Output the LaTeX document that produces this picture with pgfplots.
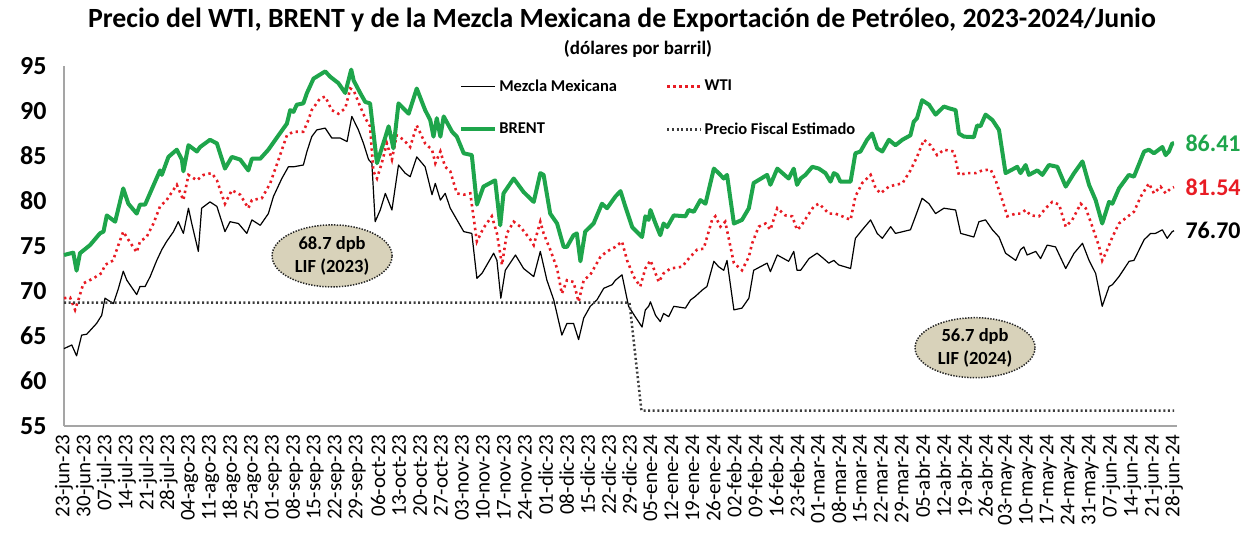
\documentclass[border=0pt]{standalone}
\usepackage{pgfplots}
\pgfplotsset{compat=1.18}
\usepackage{fontspec}
\setmainfont{Carlito}
\usetikzlibrary{shapes.geometric}
\definecolor{brentgreen}{RGB}{30,165,75}
\definecolor{wtired}{RGB}{232,28,36}
\definecolor{ellfill}{RGB}{216,210,186}
\definecolor{axgray}{RGB}{165,165,165}
\definecolor{fiscalgray}{RGB}{60,60,60}
\begin{document}
\begin{tikzpicture}
\useasboundingbox (0,0) rectangle (1244pt,542pt);
\node[font=\fontsize{27.8}{30}\selectfont\bfseries] at (622pt,522pt) {Precio del WTI, BRENT y de la Mezcla Mexicana de Exportación de Petróleo, 2023-2024/Junio};
\node[font=\fontsize{19}{21}\selectfont\bfseries] at (638pt,493pt) {(dólares por barril)};
\begin{axis}[
 at={(64pt,116pt)}, anchor=south west,
 scale only axis, width=1113pt, height=360pt,
 xmin=0, xmax=372, ymin=55, ymax=95,
 axis x line*=bottom, axis y line*=left,
 axis line style={axgray, line width=1.2pt, -},
 major tick length=0pt,
 ytick={55,60,...,95},
 xtick={0,7,...,371},
 xticklabels={23-jun-23,30-jun-23,07-jul-23,14-jul-23,21-jul-23,28-jul-23,04-ago-23,11-ago-23,18-ago-23,25-ago-23,01-sep-23,08-sep-23,15-sep-23,22-sep-23,29-sep-23,06-oct-23,13-oct-23,20-oct-23,27-oct-23,03-nov-23,10-nov-23,17-nov-23,24-nov-23,01-dic-23,08-dic-23,15-dic-23,22-dic-23,29-dic-23,05-ene-24,12-ene-24,19-ene-24,26-ene-24,02-feb-24,09-feb-24,16-feb-24,23-feb-24,01-mar-24,08-mar-24,15-mar-24,22-mar-24,29-mar-24,05-abr-24,12-abr-24,19-abr-24,26-abr-24,03-may-24,10-may-24,17-may-24,24-may-24,31-may-24,07-jun-24,14-jun-24,21-jun-24,28-jun-24},
 xticklabel shift=5pt,
 yticklabel shift=14pt,
 x tick label style={rotate=90, anchor=east, font=\fontsize{21}{22}\selectfont},
 y tick label style={font=\fontsize{26}{27}\selectfont\bfseries},
 /pgf/number format/assume math mode=true,
 clip=false,
 legend columns=2,
 legend cell align=left,
 legend style={draw=none, fill=none, inner sep=0pt, at={(0.355,0.968)}, anchor=north west,
   font=\fontsize{16.5}{18}\selectfont\bfseries,
   /tikz/every even column/.append style={column sep=47pt}, row sep=26pt},
 legend image code/.code={\draw[#1] (0pt,0pt) -- (34pt,0pt);},
]
% Mezcla Mexicana
\addplot[black, line width=1.2pt, line join=round] coordinates {
(0,63.6) (2.6,64.0) (4.2,62.8) (5.9,65.1) (7.6,65.2) (10.9,66.4) (12.6,67.3) (13.7,69.2) (16.5,68.6)
(18.2,70.3) (19.8,72.2) (21.0,71.2) (24.3,69.6) (25.4,70.5) (27.1,70.5) (28.8,71.6) (31.0,73.4)
(32.7,74.6) (34.3,75.5) (36.6,76.6) (38.2,77.7) (39.9,76.4) (41.6,79.2) (42.7,77.5) (44.9,74.4)
(46.0,79.2) (48.8,79.9) (51.1,79.4) (53.8,76.6) (55.5,77.7) (58.3,77.5) (61.1,76.4) (62.8,77.9)
(65.6,77.3) (68.3,78.6) (70.0,80.5) (72.8,82.5) (75.0,83.8) (76.7,83.8) (80.0,84.0) (81.2,85.5)
(82.8,87.15) (84.5,87.9) (87.3,88.1) (89.5,87.0) (92.3,87.0) (94.6,86.6) (96.2,89.4) (98.4,87.9)
(100.1,86.4) (101.8,84.6) (102.9,84.2) (104.0,77.7) (105.7,79.0) (107.4,80.85) (109.6,79.0)
(111.8,84.0) (114.0,83.1) (115.7,82.7) (117.9,84.9) (120.7,83.8) (123.0,80.7) (124.1,81.96)
(125.8,80.1) (127.4,80.85) (129.1,79.2) (133.6,76.6) (136.3,76.4) (138.0,71.4) (139.7,71.96)
(143.6,74.2) (144.7,73.4) (146.0,69.2) (147.5,72.3) (150.9,74.0) (153.6,72.5) (157.0,71.6)
(159.2,74.4) (161.4,71.2) (163.7,69.0) (166.4,65.1) (168.1,66.4) (170.3,66.4) (172.0,64.6)
(173.7,67.0) (175.9,68.3) (178.1,69.0) (180.4,70.3) (183.2,70.7) (184.3,71.2) (186.5,71.8)
(188.7,68.3) (190.9,67.15) (193.2,66.0) (194.3,67.9) (195.4,68.3) (196.0,68.8) (197.7,67.3)
(199.3,66.6) (200.4,67.5) (202.1,67.15) (203.8,68.3) (207.7,68.1) (209.4,69.0) (211.0,69.4)
(213.3,70.1) (214.9,70.5) (217.2,73.3) (218.8,72.7) (220.5,72.3) (221.6,73.4) (223.9,67.9)
(226.6,68.1) (228.9,69.2) (230.5,72.3) (235.0,73.1) (236.1,72.15) (238.4,74.0) (242.2,73.3)
(243.9,74.4) (245.0,72.3) (246.2,72.3) (249.0,73.6) (251.7,74.2) (253.9,73.6) (255.6,73.1)
(257.3,73.4) (258.9,72.9) (262.9,72.5) (264.5,75.85) (266.8,76.8) (269.6,77.9) (271.8,76.4)
(273.5,75.85) (276.3,77.15) (277.9,76.4) (282.9,76.8) (284.6,78.3) (286.8,80.3) (289.1,79.7)
(291.3,78.6) (294.1,79.2) (298.0,79.0) (299.7,76.4) (301.9,76.2) (304.1,76.0) (305.8,77.7)
(308.0,77.9) (310.3,76.8) (312.5,76.0) (314.7,74.2) (318.1,73.4) (319.7,74.6) (320.8,74.9)
(321.9,74.0) (324.8,74.4) (326.4,73.6) (328.6,75.1) (331.4,74.9) (334.8,72.5) (337.6,74.2)
(340.4,75.3) (342.6,73.4) (344.8,71.96) (347.0,68.3) (349.3,70.5) (350.4,70.7) (352.6,71.6)
(356.0,73.3) (357.6,73.4) (361.0,75.7) (363.2,76.4) (364.8,76.4) (367.1,76.8) (368.7,75.85)
(370.4,76.6) (371,76.70)
};
\addlegendentry{Mezcla Mexicana}
% WTI
\addplot[wtired, line width=2.6pt, dash pattern=on 2.4pt off 3.6pt] coordinates {
(0,69.2) (2.0,69.3) (3.7,67.9) (4.8,69.0) (6.5,70.85) (9.8,71.4) (12.6,72.0) (13.7,72.9) (16.5,73.4)
(17.0,74.0) (19.8,76.6) (21.5,75.7) (24.3,74.3) (25.4,75.5) (27.6,76.0) (29.9,77.5) (32.1,79.4)
(34.3,80.1) (37.7,81.8) (39.9,80.1) (41.6,82.9) (44.4,82.3) (46.6,82.9) (49.4,83.1) (51.1,82.3)
(53.8,79.7) (56.1,81.2) (58.9,80.7) (61.6,79.2) (62.8,80.1) (66.1,80.3) (68.9,81.95) (71.7,84.6)
(74.5,87.3) (76.7,87.7) (80.0,87.7) (81.7,89.0) (82.8,90.1) (85.6,91.4) (87.3,91.6) (89.5,90.1)
(91.7,89.7) (94.0,90.3) (95.7,92.5) (96.8,92.3) (99.0,90.5) (100.7,89.2) (102.3,88.3) (103.4,83.3)
(104.6,82.5) (106.2,84.2) (107.9,86.4) (109.6,84.6) (111.2,87.3) (113.5,86.8) (115.7,86.0)
(117.9,88.4) (120.7,86.4) (123.0,85.7) (124.1,84.2) (125.8,85.5) (127.4,83.8) (129.1,83.3)
(131.3,80.85) (133.6,80.7) (135.8,80.85) (138.0,75.5) (140.2,77.0) (143.0,78.3) (144.7,76.4)
(146.4,72.9) (148.0,76.4) (150.3,77.7) (152.5,77.15) (155.9,75.7) (157.0,75.1) (159.2,77.7)
(160.3,76.4) (162.5,74.6) (164.8,72.5) (166.4,69.7) (168.1,71.2) (170.3,71.0) (172.0,68.8)
(173.7,71.2) (175.9,71.8) (179.3,73.8) (181.5,74.4) (184.3,74.9) (186.5,75.5) (188.2,73.4)
(190.4,71.6) (192.6,70.5) (194.3,72.5) (196.0,73.4) (197.1,72.5) (198.8,71.0) (200.4,71.96)
(202.7,72.5) (206.6,72.7) (208.8,73.6) (211.6,74.6) (213.8,74.7) (216.6,77.9) (217.7,78.3)
(219.4,77.15) (221.0,77.7) (223.9,73.1) (226.6,72.3) (228.9,73.8) (230.0,75.3) (232.2,77.15)
(234.5,77.5) (236.1,76.8) (238.4,79.2) (241.1,78.4) (243.4,78.3) (245.0,76.8) (246.2,77.15)
(248.4,78.3) (250.6,79.4) (252.3,79.7) (253.9,79.2) (255.6,78.6) (257.8,78.6) (260.1,78.3)
(262.9,77.9) (264.5,80.5) (266.8,82.0) (269.6,82.9) (271.3,81.4) (272.9,80.85) (275.7,81.6)
(277.9,81.8) (280.2,81.95) (282.9,83.4) (285.1,84.9) (287.4,86.8) (289.6,86.2) (291.8,85.1)
(294.1,85.7) (297.4,85.5) (299.1,82.9) (301.9,83.1) (304.7,83.1) (306.9,83.4) (309.7,83.5)
(311.4,82.3) (313.6,80.1) (315.3,78.3) (318.1,78.6) (319.7,78.6) (321.4,79.0) (323.1,78.4)
(325.9,78.3) (328.1,79.2) (330.3,79.9) (332.6,79.6) (334.8,77.15) (337.0,77.9) (339.8,79.7)
(341.5,79.2) (343.7,77.15) (346.0,74.9) (347.0,73.4) (348.2,74.2) (350.4,76.0) (352.6,77.5)
(356.0,78.4) (357.6,78.8) (359.9,80.5) (362.6,81.95) (364.3,80.85) (366.5,81.6) (368.2,80.85)
(369.9,81.4) (371,81.54)
};
\addlegendentry{WTI}
% BRENT
\addplot[brentgreen, line width=4pt, line join=round] coordinates {
(0,74.0) (3.1,74.26) (4.2,72.26) (5.35,74.2) (8.7,75.1) (12.0,76.4) (13.2,76.6) (14.3,78.4)
(17.1,77.7) (19.8,81.4) (21.5,79.7) (24.3,78.6) (25.4,79.6) (27.1,79.6) (28.8,80.9) (32.1,83.4)
(32.7,82.9) (34.9,84.9) (37.7,85.7) (39.4,84.6) (39.9,83.3) (41.6,86.2) (44.4,85.5) (45.5,86.0)
(48.8,86.8) (51.1,86.4) (53.8,83.6) (56.1,84.9) (58.9,84.6) (61.6,83.4) (62.8,84.7) (65.6,84.7)
(68.3,85.7) (71.7,87.3) (74.5,88.6) (75.6,90.1) (76.7,89.9) (77.8,90.7) (80.0,90.85) (81.2,92.0)
(83.4,93.6) (87.3,94.4) (89.0,93.8) (91.7,93.1) (94.0,92.0) (96.0,94.6) (96.8,93.4) (99.0,92.0)
(100.7,91.0) (102.3,90.85) (104.6,84.2) (107.4,87.1) (108.5,88.3) (110.1,85.85) (111.8,90.85)
(115.2,89.7) (117.9,92.5) (120.7,90.1) (122.4,89.0) (123.5,87.15) (124.6,89.2) (125.8,87.15)
(126.9,89.4) (129.7,87.7) (131.3,87.15) (133.6,85.3) (136.3,85.1) (138.0,79.6) (140.2,81.6)
(144.1,82.3) (145.8,77.3) (146.9,80.85) (150.3,82.5) (153.6,81.0) (157.0,79.9) (159.2,83.1)
(160.3,82.9) (162.5,78.6) (164.8,77.5) (167.0,74.9) (168.1,74.9) (170.3,76.2) (171.4,76.4)
(172.6,73.3) (174.2,76.6) (177.0,77.5) (179.8,79.7) (181.5,79.2) (184.3,80.5) (186.0,81.1)
(187.6,79.4) (189.9,77.1) (193.2,76.0) (194.3,78.3) (195.4,77.9) (196.0,79.0) (197.7,77.5)
(199.3,76.2) (200.4,77.5) (201.6,77.1) (203.8,78.4) (207.7,78.3) (208.8,79.0) (210.5,78.8)
(212.7,80.1) (214.4,79.7) (217.2,83.6) (218.8,83.1) (220.5,82.5) (221.6,82.9) (223.9,77.5)
(226.6,77.9) (228.9,79.2) (230.5,82.0) (235.0,82.9) (236.1,81.8) (238.4,83.6) (242.2,82.5)
(243.9,83.6) (245.0,81.8) (246.2,82.5) (247.8,82.9) (250.1,83.8) (252.3,83.6) (254.5,83.1)
(256.2,82.15) (257.3,83.1) (258.4,82.9) (259.5,82.15) (262.9,82.15) (264.5,85.3) (266.2,85.5)
(268.4,86.8) (270.1,87.5) (271.8,85.85) (273.5,85.5) (275.7,86.8) (277.9,86.2) (280.2,86.8)
(282.9,87.3) (284.0,88.8) (285.1,89.2) (286.8,91.2) (289.1,90.7) (291.3,89.6) (294.1,90.5)
(295.8,90.3) (298.0,90.1) (299.1,87.5) (300.8,87.15) (304.1,87.1) (305.2,88.4) (306.3,88.3)
(308.0,89.6) (310.3,89.0) (312.5,87.9) (314.7,83.1) (317.5,83.6) (318.6,83.8) (319.7,83.1)
(321.4,84.0) (322.5,82.9) (325.3,83.4) (327.0,82.9) (329.2,84.0) (332.0,83.8) (334.8,81.6)
(337.6,83.1) (340.4,84.4) (342.6,81.8) (344.8,80.1) (347.0,77.5) (349.3,79.9) (350.4,79.7)
(352.6,81.4) (355.9,82.9) (357.6,82.7) (361.0,85.5) (362.6,85.7) (364.3,85.3) (367.1,86.0)
(368.2,85.1) (369.3,85.5) (370.4,86.4) (371,86.41)
};
\addlegendentry{BRENT}
% Precio fiscal
\addplot[fiscalgray, line width=2.5pt, dash pattern=on 2pt off 2.6pt] coordinates {
(0,68.7) (189,68.7) (193,56.7) (371,56.7)
};
\addlegendentry{Precio Fiscal Estimado}
% ellipses
\node[ellipse, fill=ellfill, draw=black!85, line width=1.5pt, dash pattern=on 1.4pt off 1.4pt,
  minimum width=120pt, minimum height=62pt, inner sep=0pt, align=center,
  font=\fontsize{18.5}{23}\selectfont\bfseries] at (axis cs:89.6,73.9) {68.7 dpb\\LIF (2023)};
\node[ellipse, fill=ellfill, draw=black!85, line width=1.5pt, dash pattern=on 1.4pt off 1.4pt,
  minimum width=120pt, minimum height=60pt, inner sep=0pt, align=center,
  font=\fontsize{18.5}{23}\selectfont\bfseries] at (axis cs:304.5,63.7) {56.7 dpb\\LIF (2024)};
% end labels
\node[anchor=west, xshift=8pt, text=brentgreen, font=\fontsize{24}{26}\selectfont\bfseries] at (axis cs:371,86.41) {86.41};
\node[anchor=west, xshift=8pt, text=wtired, font=\fontsize{24}{26}\selectfont\bfseries] at (axis cs:371,81.54) {81.54};
\node[anchor=west, xshift=8pt, text=black, font=\fontsize{24}{26}\selectfont\bfseries] at (axis cs:371,76.70) {76.70};
\end{axis}
\end{tikzpicture}
\end{document}
